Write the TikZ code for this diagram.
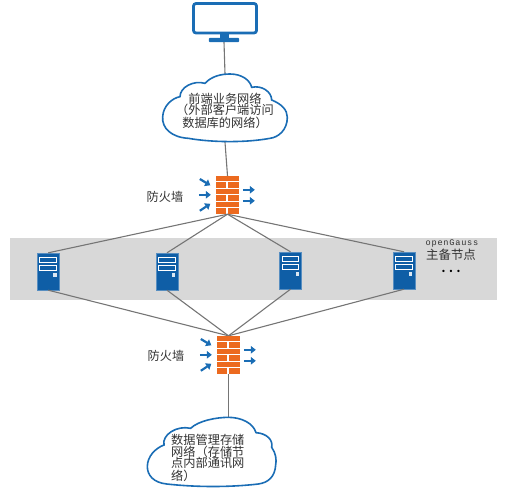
\documentclass[tikz,border=0pt]{standalone}
\usepackage{fontspec}
\setmainfont{Noto Sans CJK SC}
\newfontfamily\ogfont[LetterSpace=9]{Liberation Mono}
\usetikzlibrary{arrows.meta}
\definecolor{cblue}{HTML}{1A6DB5}
\definecolor{srv}{HTML}{0F5EA6}
\definecolor{brick}{HTML}{EC6A1F}
\definecolor{band}{HTML}{D8D8D8}
\definecolor{wire}{HTML}{757575}
\definecolor{txt}{HTML}{333333}
\tikzset{
 wirepath/.style={draw=wire,line width=1.1pt},
 cloudpath/.style={draw=cblue,line width=1.6pt,fill=white},
 flow/.style={draw=cblue,line width=2.2pt,-{Triangle[length=5pt,width=7.5pt]}},
 srvbox/.style={rectangle,fill=srv,draw=srv!70!white,line width=0.4pt,minimum width=22pt,minimum height=37pt,inner sep=0pt},
 slot/.style={draw=white,line width=1pt,fill=srv},
 fwbox/.style={rectangle,minimum width=23pt,minimum height=38pt,inner sep=0pt},
 hook/.style={rectangle,minimum width=0pt,minimum height=0pt,inner sep=0pt},
 cjk/.style={text=txt,font=\fontsize{12.2}{11.5}\selectfont,inner sep=0pt},
}
\newcommand{\serverparts}[1]{%
 \begin{scope}[shift={(#1.north west)}]
  \draw[slot] (2.8,5) rectangle (19.2,10);
  \draw[slot] (2.8,12.4) rectangle (19.2,17.8);
  \fill[white!85!srv] (16.2,20.4) rectangle (19.4,24.2);
 \end{scope}}
\newcommand{\firewallparts}[1]{%
 \begin{scope}[shift={(#1.north west)}]
  \foreach \r in {0,2,4}{\fill[brick] (0,{\r*6.5}) rectangle (23,{\r*6.5+5.6});}
  \foreach \r in {1,3,5}{\fill[brick] (0,{\r*6.5}) rectangle (10.6,{\r*6.5+5.6});
    \fill[brick] (12.2,{\r*6.5}) rectangle (23,{\r*6.5+5.6});}
  \draw[flow] (-16,3.2) -- (-5.5,9.5);
  \draw[flow] (-17,19) -- (-5,19);
  \draw[flow] (-16,35) -- (-5.5,28);
  \draw[flow] (27,14) -- (39,14);
  \draw[flow] (27,25) -- (39,25);
 \end{scope}}
\begin{document}
\begin{tikzpicture}[x=1pt,y=-1pt]
\useasboundingbox (0,0) rectangle (508,489);
\fill[band] (10,238) rectangle (497,300);
% nodes
\node[hook,minimum width=66pt,minimum height=32pt] (mon) at (225,18) {};
\node[hook,minimum width=30pt,minimum height=4pt] (base) at (224,40) {};
\node[hook,minimum width=124pt,minimum height=68pt] (cloudA) at (225,108) {};
\node[hook,minimum width=129pt,minimum height=69pt] (cloudB) at (211.5,451.5) {};
\node[fwbox] (fwA) at (227.5,195) {};
\node[fwbox] (fwB) at (228.5,355) {};
\node[srvbox] (s1) at (48.3,271.5) {};
\node[srvbox] (s2) at (167,271.5) {};
\node[srvbox] (s3) at (290.5,270.5) {};
\node[srvbox] (s4) at (404,270.5) {};
% connectors
\draw[wirepath] (base.south) -- (cloudA.north);
\draw[wirepath] (cloudA.south) -- (fwA.north);
\draw[wirepath] (fwB.south) -- (fwB.south |- cloudB.north);
\foreach \s in {s1,s2,s3,s4}{
  \draw[wirepath] (fwA.south) -- (\s.north);
  \draw[wirepath] (\s.south) -- (fwB.north);
}
% monitor
\draw[draw=cblue,line width=2.8pt,rounded corners=2.5pt] (193.5,3.5) rectangle (256.5,33);
\fill[cblue] (220,34) rectangle (229,38);
\fill[cblue,rounded corners=1pt] (base.north west) rectangle (base.south east);
% clouds
\begin{scope}[shift={(130,0)},x=0.33333pt,y=-0.33333pt]
\draw[cloudpath] (175,415) .. controls (125,412) and (95,385) .. (98,350)
 .. controls (100,318) and (125,295) .. (150,290)
 .. controls (150,262) and (190,240) .. (225,250)
 .. controls (245,228) and (275,222) .. (300,222)
 .. controls (335,222) and (360,240) .. (365,262)
 .. controls (395,255) and (425,275) .. (425,300)
 .. controls (455,312) and (472,330) .. (472,352)
 .. controls (472,390) and (445,412) .. (420,415)
 .. controls (350,428) and (250,428) .. (175,415) -- cycle;
\end{scope}
\begin{scope}[shift={(130,310)},x=0.33333pt,y=-0.33333pt]
\draw[cloudpath] (110,522) .. controls (70,518) and (52,495) .. (52,470)
 .. controls (52,440) and (75,415) .. (102,405)
 .. controls (95,375) and (140,345) .. (182,355)
 .. controls (205,332) and (260,322) .. (295,322)
 .. controls (335,322) and (370,340) .. (378,368)
 .. controls (410,370) and (430,390) .. (425,412)
 .. controls (438,430) and (440,450) .. (437,465)
 .. controls (435,500) and (415,518) .. (385,522)
 .. controls (300,532) and (200,532) .. (110,522) -- cycle;
\end{scope}
% parts
\firewallparts{fwA}
\firewallparts{fwB}
\serverparts{s1}\serverparts{s2}\serverparts{s3}\serverparts{s4}
% labels
\node[cjk,align=center] (ta) at (225,110.5) {前端业务网络\\（外部客户端访问\\数据库的网络）};
\node[cjk,align=left,anchor=north west] (tb) at (171,434) {数据管理存储\\网络（存储节\\点内部通讯网\\络）};
\node[cjk] (la) at (165,197) {防火墙};
\node[cjk] (lb) at (166,356) {防火墙};
\node[text=txt,inner sep=0pt,font=\ogfont\fontsize{8.6}{10}\selectfont] (og) at (452,244) {openGauss};
\node[cjk,font=\fontsize{12.4}{12}\selectfont] (zb) at (451,254.5) {主备节点};
\node[text=black,inner sep=0pt,font=\bfseries\fontsize{11}{11}\selectfont] (dots) at (451,271) {.\,\,.\,\,.};
\end{tikzpicture}
\end{document}
